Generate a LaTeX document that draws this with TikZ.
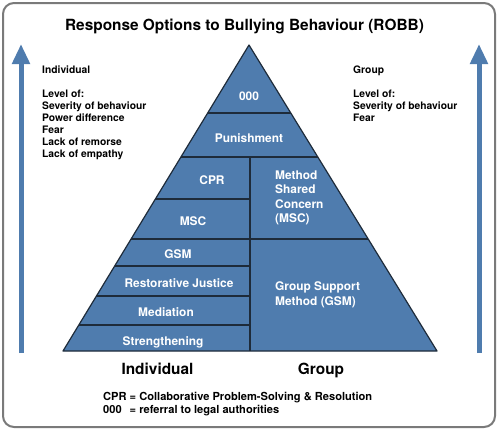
\documentclass[tikz,border=0pt]{standalone}
\usepackage{fontspec}
\setmainfont{TeX Gyre Heros}
\usetikzlibrary{arrows.meta, calc}
\newcommand*{\Size}[2][14]{\fontsize{#2}{#1}\selectfont}
\newcommand*{\Lines}[1]{\begin{tabular}[t]{@{}l@{}}#1\end{tabular}}
\definecolor{robbblue}{HTML}{4F7CAE}
\definecolor{robbline}{HTML}{1E2B3A}
\definecolor{robbframe}{HTML}{7A7A7A}

\begin{document}
\begin{tikzpicture}[x=1pt, y=-1pt, font=\bfseries,
    tier/.style={text=white, font={\bfseries\Size{11.9}}, inner sep=0, anchor=base},
    side/.style={font={\bfseries\Size[12]{10.3}}, inner sep=0, anchor=base west},
    big/.style={font={\bfseries\Size[18]{15.4}}, inner sep=0, anchor=base},
    uparrow/.style={draw=robbblue, line width=5pt, -{Triangle[width=17pt, length=20pt]}}]
  \useasboundingbox (0,0) rectangle (500,432);
  \draw[robbframe, line width=2pt, rounded corners=11pt] (3,3) rectangle (495,427);
  % arrows at both sides
  \coordinate (lb) at (21,353); \coordinate (lt) at (21,44);
  \coordinate (rb) at (479,353); \coordinate (rt) at (479,44);
  \draw[uparrow] (lb) -- (lt);
  \draw[uparrow] (rb) -- (rt);
  % pyramid
  \coordinate (A) at (249,45);
  \coordinate (L) at (63,351);
  \coordinate (R) at (437,351);
  \coordinate (D) at (250,157);
  \filldraw[fill=robbblue, draw=robbline, line width=1.2pt, line join=round] (A) -- (L) -- (R) -- cycle;
  \draw[robbline, line width=1.2pt] (D) -- (D |- L);
  \foreach \t in {0.778,0.634,0.366}{
    \draw[robbline, line width=1.2pt] ($(L)!\t!(A)$) -- ($(R)!\t!(A)$);
  }
  \foreach \t in {0.497,0.278,0.180,0.085}{
    \coordinate (p) at ($(L)!\t!(A)$);
    \draw[robbline, line width=1.2pt] (p) -- (p -| D);
  }
  \node[tier] (ooo) at (249,100) {000};
  \node[tier] (pun) at (249,142.5) {Punishment};
  \node[tier] (cpr) at (212,184) {CPR};
  \node[tier] (msc) at (193,225.7) {MSC};
  \node[tier] (gsm) at (178,258) {GSM};
  \node[tier] (rj) at (179,287.7) {Restorative Justice};
  \node[tier] (med) at (166,316.7) {Mediation};
  \node[tier] (str) at (163,345.7) {Strengthening};
  \node[tier, anchor=base west, font={\bfseries\Size[14.5]{11.9}}] (mscg) at (275,179.3) {\Lines{Method\\Shared\\Concern\\(MSC)}};
  \node[tier, anchor=base west, font={\bfseries\Size[14.3]{11.9}}] (gsmg) at (275,290.7) {\Lines{Group Support\\Method (GSM)}};
  % texts round the pyramid
  \node[big] (title) at (244.5,30.5) {Response Options to Bullying Behaviour (ROBB)};
  \node[side] (ind) at (42,73) {\Lines{Individual\\ \\Level of:\\Severity of behaviour\\Power difference\\Fear\\Lack of remorse\\Lack of empathy}};
  \node[side] (grp) at (353,73) {\Lines{Group\\ \\Level of:\\Severity of behaviour\\Fear}};
  \node[big] (indl) at (157.5,374) {Individual};
  \node[big] (grpl) at (321,374) {Group};
  \node[side, font={\bfseries\Size[13]{11.1}}] (key) at (103,400)
    {\begin{tabular}[t]{@{}l@{\ }l@{}}CPR & = Collaborative Problem-Solving \& Resolution\\000 & = referral to legal authorities\end{tabular}};
\end{tikzpicture}
\end{document}
